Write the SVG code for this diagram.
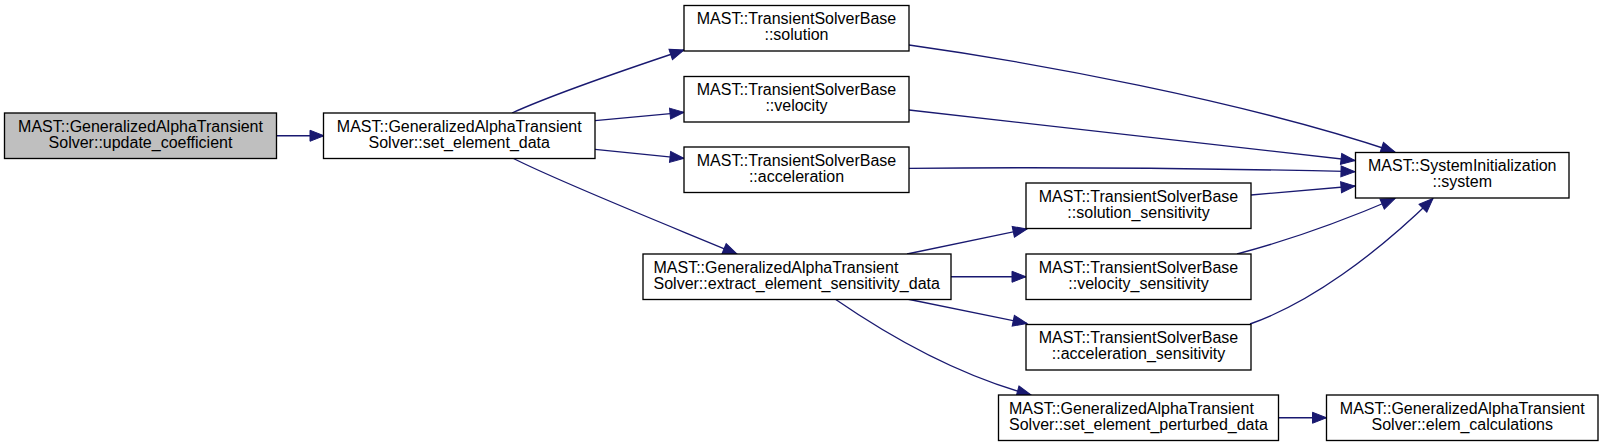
<svg xmlns="http://www.w3.org/2000/svg" width="1603" height="447" viewBox="0 0 1603 447">
<style>
.n rect{fill:#ffffff;stroke:#000000;stroke-width:1.33}
.n.g rect{fill:#bfbfbf}
.n text{font-family:"Liberation Sans",Arial,Helvetica,sans-serif;font-size:16px;fill:#000000}
.c{text-anchor:middle}
.e path{fill:none;stroke:#191970;stroke-width:1.33;marker-end:url(#ah)}
</style>
<defs>
<marker id="ah" markerUnits="userSpaceOnUse" markerWidth="14" markerHeight="11" refX="14" refY="5.5" orient="auto" overflow="visible">
<path d="M0,0 L14,5.5 L0,11 z" fill="#191970" stroke="#191970" stroke-width="1"/>
</marker>
</defs>
<rect width="1603" height="447" fill="#ffffff"/>
<g id="edges" class="e">
<path d="M276.5,135.75 L324,135.75"/>
<path d="M512,113 C545,98 615,73 684,50"/>
<path d="M595,120.7 L684,112.3"/>
<path d="M595,149.3 L684,158.3"/>
<path d="M513.5,158.5 C560,182 660,222 737,254"/>
<path d="M907,254 L1027,229"/>
<path d="M951,276.75 L1026,276.75"/>
<path d="M907,299 L1027,323.5"/>
<path d="M835,299 C880,330 950,373 1031,395"/>
<path d="M909,45 C1030,62 1240,100 1395,152"/>
<path d="M909,110 L1355,160.5"/>
<path d="M909,168.3 C1050,167 1200,168 1355,171.7"/>
<path d="M1251,195 L1355,186"/>
<path d="M1237,254 C1290,240 1345,220 1395,198.5"/>
<path d="M1250,324 C1310,303 1375,255 1433,198.5"/>
<path d="M1278.5,417.75 L1326.5,417.75"/>
</g>
<g id="node1" class="n g">
<rect x="4.5" y="113" width="272" height="45.5"/>
<text class="c" x="140.5" y="131.75">MAST::GeneralizedAlphaTransient</text>
<text class="c" x="140.5" y="147.75">Solver::update_coefficient</text>
</g>
<g id="node2" class="n">
<rect x="323.5" y="113" width="271.5" height="45.5"/>
<text class="c" x="459.25" y="131.75">MAST::GeneralizedAlphaTransient</text>
<text class="c" x="459.25" y="147.75">Solver::set_element_data</text>
</g>
<g id="node3" class="n">
<rect x="684" y="5.5" width="225" height="45.5"/>
<text class="c" x="796.5" y="24.25">MAST::TransientSolverBase</text>
<text class="c" x="796.5" y="40.25">::solution</text>
</g>
<g id="node4" class="n">
<rect x="684" y="76.5" width="225" height="45.5"/>
<text class="c" x="796.5" y="95.25">MAST::TransientSolverBase</text>
<text class="c" x="796.5" y="111.25">::velocity</text>
</g>
<g id="node5" class="n">
<rect x="684" y="147" width="225" height="45.5"/>
<text class="c" x="796.5" y="165.75">MAST::TransientSolverBase</text>
<text class="c" x="796.5" y="181.75">::acceleration</text>
</g>
<g id="node6" class="n">
<rect x="643" y="254" width="308" height="45.5"/>
<text x="653.5" y="272.75">MAST::GeneralizedAlphaTransient</text>
<text x="653.5" y="288.75">Solver::extract_element_sensitivity_data</text>
</g>
<g id="node7" class="n">
<rect x="1026" y="183" width="225" height="45.5"/>
<text class="c" x="1138.5" y="201.75">MAST::TransientSolverBase</text>
<text class="c" x="1138.5" y="217.75">::solution_sensitivity</text>
</g>
<g id="node8" class="n">
<rect x="1026" y="254" width="225" height="45.5"/>
<text class="c" x="1138.5" y="272.75">MAST::TransientSolverBase</text>
<text class="c" x="1138.5" y="288.75">::velocity_sensitivity</text>
</g>
<g id="node9" class="n">
<rect x="1026" y="324.5" width="225" height="45.5"/>
<text class="c" x="1138.5" y="343.25">MAST::TransientSolverBase</text>
<text class="c" x="1138.5" y="359.25">::acceleration_sensitivity</text>
</g>
<g id="node10" class="n">
<rect x="998.5" y="395" width="280" height="45.5"/>
<text x="1009" y="413.75">MAST::GeneralizedAlphaTransient</text>
<text x="1009" y="429.75">Solver::set_element_perturbed_data</text>
</g>
<g id="node11" class="n">
<rect x="1355.5" y="152.5" width="213.5" height="45.5"/>
<text class="c" x="1462.25" y="171.25">MAST::SystemInitialization</text>
<text class="c" x="1462.25" y="187.25">::system</text>
</g>
<g id="node12" class="n">
<rect x="1326.5" y="395" width="271.5" height="45.5"/>
<text class="c" x="1462.25" y="413.75">MAST::GeneralizedAlphaTransient</text>
<text class="c" x="1462.25" y="429.75">Solver::elem_calculations</text>
</g>
</svg>
